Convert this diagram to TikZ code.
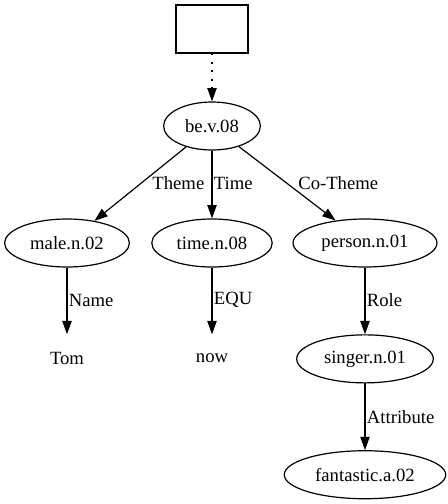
\documentclass[tikz,border=0pt]{standalone}
\usepackage{fontspec}
\setmainfont{Liberation Serif}
\newfontfamily\timesfont{Liberation Serif}
\usetikzlibrary{positioning}
\usetikzlibrary{shapes}
\usetikzlibrary{arrows.meta}

\begin{document}
\begin{tikzpicture}[x=0.75pt, y=-0.75pt, font=\timesfont\fontsize{14}{16}\selectfont,
  synset/.style={draw, ellipse, line width=0.9pt, inner xsep=5.5pt, inner ysep=0pt, minimum height=36pt},
  word/.style={inner sep=0pt, minimum height=36pt},
  rel/.style={line width=0.9pt, -{Triangle[length=10pt, width=7pt]}},
  lbl/.style={anchor=west, inner sep=0pt},
  node distance=50pt]
\useasboundingbox (0,0) rectangle (448,504);
\node[draw, line width=0.9pt, minimum width=54pt, minimum height=36pt]
  (root)
  at (212, 29)
  {};
\node[synset]
  (be)
  at (212, 126)
  {be.v.08};
\draw[rel, dash pattern=on 1.3pt off 5pt] (root) -- (be);
\foreach \x/\name/\synset/\role/\dx in {
    67/male/male.n.02/Theme/8pt,
    212/time/time.n.08/Time/1pt,
    365/person/person.n.01/Co-Theme/8.6pt} {
  \node[synset]
    (\name)
    at (\x, 243)
    {\synset};
  \draw[rel] (be) -- node[lbl, pos=.49, xshift=\dx] {\role} (\name);
}
\foreach \name/\word/\role in {male/Tom/Name, time/now/EQU} {
  \node[word, below=of \name]
    (\name-word)
    {\word};
  \draw[rel] (\name) -- node[lbl, pos=.49, xshift=1pt] {\role} (\name-word);
}
\node[synset, below=of person]
  (singer)
  {singer.n.01};
\node[synset, below=of singer]
  (fantastic)
  {fantastic.a.02};
\draw[rel] (person) -- node[lbl, pos=.49, xshift=1pt] {Role} (singer);
\draw[rel] (singer) -- node[lbl, pos=.51, xshift=1pt] {Attribute} (fantastic);
\end{tikzpicture}
\end{document}
